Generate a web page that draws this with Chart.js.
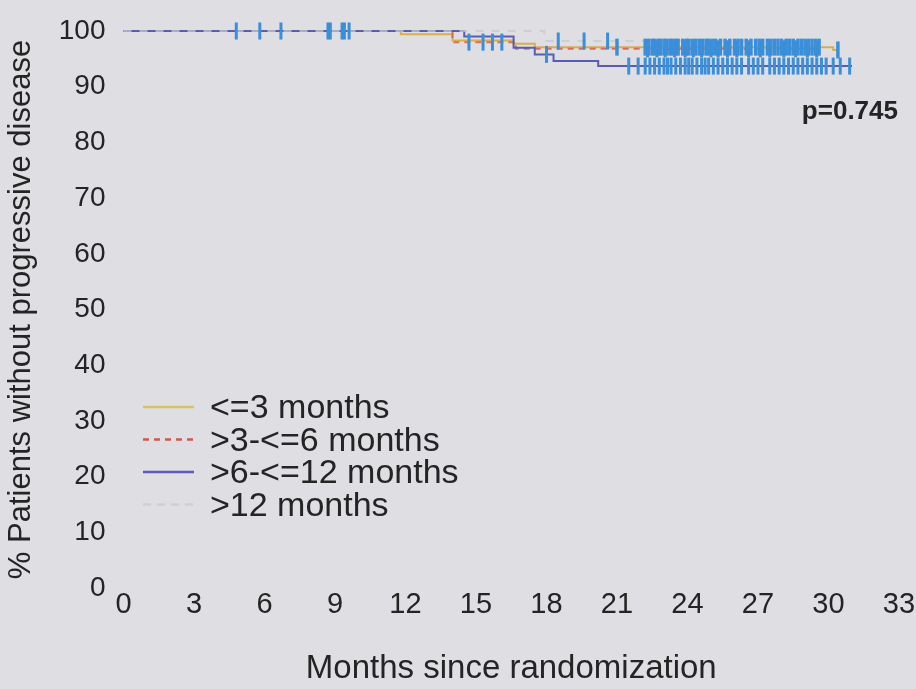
<!DOCTYPE html>
<html>
<head>
<meta charset="utf-8">
<script src="https://cdn.jsdelivr.net/npm/chart.js@4/dist/chart.umd.min.js"></script>
<style>
  html, body { margin: 0; padding: 0; background: #dfdee3; }
  #wrap { width: 916px; height: 689px; }
</style>
</head>
<body>
<div id="wrap"><canvas id="km"></canvas></div>
<script>
// Kaplan-Meier step data: times (months) where the curve drops, and the value after each drop
const groupLabels = ['<=3 months', '>3-<=6 months', '>6-<=12 months', '>12 months'];

const goldTimes = [0, 11.8, 14.0, 16.6, 17.5, 30.2];
const goldValues = [100, 99.4, 98.3, 97.7, 97.1, 96.6];
const goldEnd = 30.4;

const redTimes = [0, 14.0, 16.7];
const redValues = [100, 98.0, 96.8];
const redEnd = 29.6;

const blueTimes = [0, 14.5, 16.6, 17.5, 18.3, 20.2];
const blueValues = [100, 99.0, 97.0, 95.8, 94.6, 93.7];
const blueEnd = 31.0;

const greyTimes = [0, 17.9];
const greyValues = [100, 98.2];
const greyEnd = 29.0;

// censoring times per group
const goldCensor = [21.0, 22.2, 22.35, 22.5, 22.6, 22.75, 22.85, 23.0, 23.1, 23.25, 23.35, 23.5, 23.6,
  23.8, 23.95, 24.05, 24.2, 24.35, 24.5, 24.65, 24.8, 24.9, 25.05, 25.2, 25.4, 25.6, 25.8, 26.0, 26.15,
  26.3, 26.5, 26.7, 26.9, 27.05, 27.2, 27.4, 27.55, 27.7, 27.85, 28.0, 28.2, 28.35, 28.5, 28.7, 28.85,
  29.0, 29.15, 29.3, 29.45, 29.6, 30.4];
const redCensor = [14.7, 15.3, 15.7, 16.1, 22.3, 22.7, 23.05, 23.45, 23.9, 24.25, 24.6, 25.0, 25.3,
  25.7, 26.1, 26.6, 27.1, 27.5, 28.1, 28.6, 29.1, 29.5];
const blueCensor = [4.8, 5.8, 6.7, 8.7, 8.8, 9.3, 9.4, 9.6, 18.0, 21.5, 21.9, 22.2, 22.4, 22.6, 22.8,
  23.0, 23.15, 23.3, 23.5, 23.7, 23.9, 24.05, 24.2, 24.4, 24.6, 24.75, 24.9, 25.1, 25.3, 25.5, 25.7,
  25.9, 26.1, 26.3, 26.6, 26.8, 27.0, 27.2, 27.5, 27.7, 27.9, 28.1, 28.3, 28.5, 28.7, 28.9, 29.1, 29.3,
  29.5, 29.7, 29.9, 30.2, 30.5, 30.9];
const greyCensor = [18.5, 19.6, 20.6];

const xTicks = [0, 3, 6, 9, 12, 15, 18, 21, 24, 27, 30, 33];
const yTicks = [0, 10, 20, 30, 40, 50, 60, 70, 80, 90, 100];
const pValueText = 'p=0.745';

const FONT = '"Liberation Sans", Arial, sans-serif';
const TEXT = '#242424';
const CENSOR = '#3b8fd9';

function stepPoints(times, values, end) {
    const pts = times.map((t, i) => ({ x: t, y: values[i] }));
    pts.push({ x: end, y: values[values.length - 1] });
    return pts;
}

function survivalAt(times, values, t) {
    let v = values[0];
    for (let i = 0; i < times.length; i++) {
        if (times[i] <= t) v = values[i];
    }
    return v;
}

function censorPoints(cens, times, values) {
    return cens.map(t => ({ x: t, y: survivalAt(times, values, t) }));
}

function curve(label, pts, color, dash, order) {
    return {
        label: label,
        data: pts,
        borderColor: color,
        borderWidth: 2,
        borderDash: dash,
        stepped: true,
        pointRadius: 0,
        fill: false,
        clip: false,
        order: order
    };
}

function ticks(pts, width) {
    return {
        type: 'scatter',
        data: pts,
        pointStyle: 'line',
        rotation: 90,
        pointRadius: 8.5,
        pointBorderWidth: width,
        pointBorderColor: CENSOR,
        pointBackgroundColor: CENSOR,
        showLine: false,
        clip: false,
        order: 0
    };
}

const legendStyles = [
    { color: '#d8c25c', dash: [] },
    { color: '#d2564e', dash: [6, 5] },
    { color: '#5a5cb4', dash: [] },
    { color: '#cfced4', dash: [8, 6] }
];

// background, legend box and p-value text
const decor = {
    id: 'decor',
    beforeDraw(chart) {
        const ctx = chart.ctx;
        ctx.save();
        ctx.fillStyle = '#dfdee3';
        ctx.fillRect(0, 0, chart.width, chart.height);
        ctx.restore();
    },
    afterDraw(chart) {
        const ctx = chart.ctx;
        ctx.save();
        ctx.font = '34px ' + FONT;
        ctx.textBaseline = 'middle';
        ctx.fillStyle = TEXT;
        groupLabels.forEach((lab, i) => {
            const y = 409 + i * 32.5;
            const st = legendStyles[i];
            ctx.strokeStyle = st.color;
            ctx.lineWidth = 2.5;
            ctx.setLineDash(st.dash);
            ctx.beginPath();
            ctx.moveTo(143, y - 2);
            ctx.lineTo(194, y - 2);
            ctx.stroke();
            ctx.setLineDash([]);
            ctx.fillText(lab, 210, y);
        });
        ctx.font = 'bold 26px ' + FONT;
        ctx.textAlign = 'right';
        ctx.fillText(pValueText, 898, 112);
        ctx.restore();
    }
};

new Chart(document.getElementById('km'), {
    type: 'line',
    data: {
        datasets: [
            curve(groupLabels[0], stepPoints(goldTimes, goldValues, goldEnd), '#d6b04e', [], 4),
            curve(groupLabels[1], stepPoints(redTimes, redValues, redEnd), 'rgba(212, 84, 72, 0.8)', [6, 5], 3),
            curve(groupLabels[2], stepPoints(blueTimes, blueValues, blueEnd), '#5a5cb4', [], 2),
            curve(groupLabels[3], stepPoints(greyTimes, greyValues, greyEnd), 'rgba(200, 199, 208, 0.75)', [8, 8], 1),
            ticks(censorPoints(goldCensor, goldTimes, goldValues), 3.5),
            ticks(censorPoints(redCensor, redTimes, redValues), 3),
            ticks(censorPoints(blueCensor, blueTimes, blueValues), 3),
            ticks(censorPoints(greyCensor, greyTimes, greyValues), 3)
        ]
    },
    options: {
        responsive: true,
        maintainAspectRatio: false,
        animation: false,
        layout: { padding: { top: 31, right: 17, left: 0, bottom: 0 } },
        plugins: {
            legend: { display: false },
            tooltip: { enabled: false }
        },
        scales: {
            x: {
                type: 'linear',
                min: 0,
                max: 33,
                border: { display: false },
                grid: { display: false, drawTicks: false },
                afterBuildTicks: s => { s.ticks = xTicks.map(v => ({ value: v })); },
                ticks: {
                    color: TEXT,
                    font: { family: FONT, size: 29 },
                    padding: 0,
                    maxRotation: 0,
                    autoSkip: false
                },
                title: {
                    display: true,
                    text: 'Months since randomization',
                    color: TEXT,
                    font: { family: FONT, size: 33, lineHeight: 1 },
                    padding: { top: 0, bottom: 4 }
                },
                afterFit: s => { s.height = 101; }
            },
            y: {
                min: 0,
                max: 100,
                border: { display: false },
                grid: { display: false, drawTicks: false },
                afterBuildTicks: s => { s.ticks = yTicks.map(v => ({ value: v })); },
                ticks: {
                    color: TEXT,
                    // short line height keeps the label padding from pushing the plot top down
                    font: { family: FONT, size: 28, lineHeight: 0.6 },
                    padding: 18,
                    autoSkip: false
                },
                title: {
                    display: true,
                    text: '% Patients without progressive disease',
                    color: TEXT,
                    font: { family: FONT, size: 31, lineHeight: 1 },
                    padding: { top: 6, bottom: 0 }
                },
                afterFit: s => { s.width = 123.5; }
            }
        }
    },
    plugins: [decor]
});
</script>
</body>
</html>
